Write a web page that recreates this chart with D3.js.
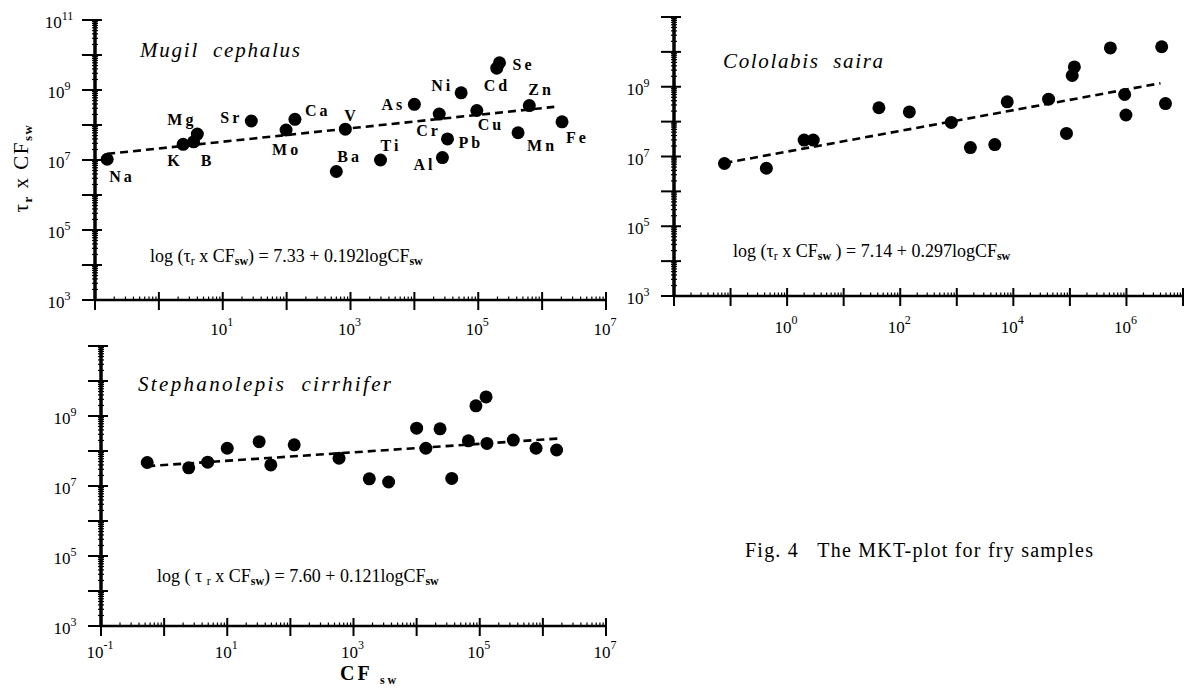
<!DOCTYPE html>
<html>
<head>
<meta charset="utf-8">
<script src="https://cdn.jsdelivr.net/npm/d3@7"></script>
<style>
  body { margin: 0; background: #ffffff; }
  text { font-family: "Liberation Serif", "DejaVu Serif", serif; fill: #000000; white-space: pre; }
</style>
</head>
<body>
<script>
var width = 1184;
var height = 689;

// Mugil cephalus
var mugilElements = ["Na", "K", "B", "Mg", "Sr", "Mo", "Ca", "V", "Ba", "Ti", "As",
  "Cr", "Ni", "Pb", "Al", "Cu", "Cd", "Se", "Mn", "Zn", "Fe"];
var mugilCF = [0.155, 2.4, 3.5, 4.0, 28, 98, 135, 830, 600, 2950, 1.0e4,
  2.45e4, 5.4e4, 3.3e4, 2.75e4, 9.5e4, 1.95e5, 2.15e5, 4.2e5, 6.3e5, 2.05e6];
var mugilTauCF = [1.05e7, 2.8e7, 3.3e7, 5.5e7, 1.3e8, 7.2e7, 1.45e8, 7.6e7, 4.7e6, 1.0e7, 3.9e8,
  2.05e8, 8.3e8, 4.0e7, 1.17e7, 2.6e8, 4.2e9, 6.0e9, 6.0e7, 3.6e8, 1.23e8];
var mugilFit = [7.33, 0.192];
var mugilFitRange = [0.155, 1.55e6];

// Cololabis saira
var sairaCF = [0.078, 0.43, 2.0, 2.9, 42, 145, 800, 1740, 4700, 7800, 4.2e4,
  8.7e4, 1.1e5, 1.2e5, 5.2e5, 9.3e5, 9.8e5, 4.2e6, 4.9e6];
var sairaTauCF = [6.3e6, 4.6e6, 2.95e7, 2.95e7, 2.5e8, 1.9e8, 9.5e7, 1.8e7, 2.2e7, 3.7e8, 4.4e8,
  4.6e7, 2.1e9, 3.7e9, 1.3e10, 6.0e8, 1.55e8, 1.4e10, 3.3e8];
var sairaFit = [7.14, 0.297];
var sairaFitRange = [0.078, 4.0e6];

// Stephanolepis cirrhifer
var cirrhiferCF = [0.54, 2.45, 4.9, 10, 32, 49, 115, 590, 1780, 3600, 1.0e4,
  1.4e4, 2.35e4, 3.6e4, 6.6e4, 8.7e4, 1.26e5, 1.3e5, 3.4e5, 7.8e5, 1.65e6];
var cirrhiferTauCF = [4.7e7, 3.3e7, 4.8e7, 1.2e8, 1.85e8, 4.0e7, 1.5e8, 6.2e7, 1.6e7, 1.3e7, 4.5e8,
  1.2e8, 4.3e8, 1.65e7, 1.95e8, 1.95e9, 3.5e9, 1.65e8, 2.05e8, 1.2e8, 1.07e8];
var cirrhiferFit = [7.60, 0.121];
var cirrhiferFitRange = [0.54, 1.8e6];

// tick labels (exponents of ten)
var yLabelsTop = ["3", "5", "7", "9", "11"];
var yLabels = ["3", "5", "7", "9"];
var xLabelsMugil = ["1", "3", "5", "7"];
var xLabelsSaira = ["0", "2", "4", "6"];
var xLabelsCirrhifer = ["-1", "1", "3", "5", "7"];

// label offsets from each Mugil point (layout only)
var mugilLabelOffset = [[2, 23], [-16, 22], [7, 24], [-30, -9], [-31, 2], [-14, 25], [10, -3],
  [-1, -8], [1, -9], [0, -9], [-33, 6], [-23, 22], [-30, -2], [11, 9], [-29, 12], [1, 20],
  [-13, 23], [13, 7], [9, 18], [-1, -11], [4, 21]];

var svg = d3.select("body")
  .append("svg")
  .attr("width", width)
  .attr("height", height);

svg.append("rect")
  .attr("width", width)
  .attr("height", height)
  .attr("fill", "#ffffff");

function drawPanel(p) {
  var g = svg.append("g");
  var x = d3.scaleLog().domain(p.xDomain).range(p.xRange);
  var y = d3.scaleLog().domain([1e3, 1e11]).range(p.yRange);
  var x0 = p.xRange[0];
  var y0 = p.yRange[0];

  var xMajor = x.ticks(20).filter(function (d) {
    return Math.abs(Math.log10(d) - Math.round(Math.log10(d))) < 1e-9;
  });
  var xMinor = x.ticks(20).filter(function (d) {
    return xMajor.indexOf(d) < 0;
  });
  var yMajor = y.ticks(20).filter(function (d) {
    return Math.abs(Math.log10(d) - Math.round(Math.log10(d))) < 1e-9;
  });
  var yMinor = y.ticks(20).filter(function (d) {
    return yMajor.indexOf(d) < 0;
  });

  // axes
  g.append("line")
    .attr("x1", x0).attr("y1", y0)
    .attr("x2", p.xRange[1]).attr("y2", y0)
    .attr("stroke", "#000").attr("stroke-width", 2.5);
  g.append("line")
    .attr("x1", x0).attr("y1", y0)
    .attr("x2", x0).attr("y2", p.yRange[1])
    .attr("stroke", "#000").attr("stroke-width", 3.5);

  g.selectAll("line.xmajor")
    .data(xMajor)
    .enter()
    .append("line")
    .classed("xmajor", true)
    .attr("x1", function (d) { return x(d); })
    .attr("x2", function (d) { return x(d); })
    .attr("y1", y0 - 8)
    .attr("y2", y0 + 10)
    .attr("stroke", "#000")
    .attr("stroke-width", 2);
  g.selectAll("line.xminor")
    .data(xMinor)
    .enter()
    .append("line")
    .classed("xminor", true)
    .attr("x1", function (d) { return x(d); })
    .attr("x2", function (d) { return x(d); })
    .attr("y1", y0 - 3.5)
    .attr("y2", y0)
    .attr("stroke", "#000")
    .attr("stroke-width", 1.2);
  g.selectAll("line.ymajor")
    .data(yMajor)
    .enter()
    .append("line")
    .classed("ymajor", true)
    .attr("y1", function (d) { return y(d); })
    .attr("y2", function (d) { return y(d); })
    .attr("x1", x0 - 13)
    .attr("x2", x0 + 7)
    .attr("stroke", "#000")
    .attr("stroke-width", 2);
  g.selectAll("line.yminor")
    .data(yMinor)
    .enter()
    .append("line")
    .classed("yminor", true)
    .attr("y1", function (d) { return y(d); })
    .attr("y2", function (d) { return y(d); })
    .attr("x1", x0 - 3)
    .attr("x2", x0 + 3)
    .attr("stroke", "#000")
    .attr("stroke-width", 1.2);

  // tick labels
  g.selectAll("text.ylab")
    .data(p.yLabels)
    .enter()
    .append("text")
    .classed("ylab", true)
    .attr("x", x0 - 36)
    .attr("y", function (d) { return y(Math.pow(10, +d)) + 8; })
    .attr("text-anchor", "middle")
    .attr("font-size", 17)
    .each(function (d) {
      var t = d3.select(this);
      t.append("tspan").text("10");
      t.append("tspan").attr("dy", -8).attr("font-size", 12).text(d);
    });
  g.selectAll("text.xlab")
    .data(p.xLabels)
    .enter()
    .append("text")
    .classed("xlab", true)
    .attr("x", function (d) { return x(Math.pow(10, +d)) - 1; })
    .attr("y", y0 + p.xLabelDy)
    .attr("text-anchor", "middle")
    .attr("font-size", 17)
    .each(function (d) {
      var t = d3.select(this);
      t.append("tspan").text("10");
      t.append("tspan").attr("dy", -9).attr("font-size", 12).text(d);
    });

  // fit line
  g.append("line")
    .attr("x1", x(p.fitRange[0]))
    .attr("y1", y(Math.pow(10, p.fit[0] + p.fit[1] * Math.log10(p.fitRange[0]))))
    .attr("x2", x(p.fitRange[1]))
    .attr("y2", y(Math.pow(10, p.fit[0] + p.fit[1] * Math.log10(p.fitRange[1]))))
    .attr("stroke", "#000")
    .attr("stroke-width", 2.6)
    .attr("stroke-dasharray", "8 5");

  // points
  g.selectAll("circle.pt")
    .data(p.cf)
    .enter()
    .append("circle")
    .classed("pt", true)
    .attr("cx", function (d) { return x(d); })
    .attr("cy", function (d, i) { return y(p.tau[i]); })
    .attr("r", 6.5)
    .attr("fill", "#000");

  if (p.names) {
    g.selectAll("text.el")
      .data(p.names)
      .enter()
      .append("text")
      .classed("el", true)
      .attr("x", function (d, i) { return x(p.cf[i]) + mugilLabelOffset[i][0]; })
      .attr("y", function (d, i) { return y(p.tau[i]) + mugilLabelOffset[i][1]; })
      .attr("font-size", 16)
      .attr("font-weight", "bold")
      .attr("letter-spacing", 3)
      .text(function (d) { return d; });
  }

  // species name
  g.append("text")
    .attr("x", p.title[1])
    .attr("y", p.title[2])
    .attr("font-size", 21)
    .attr("font-style", "italic")
    .attr("textLength", p.title[3])
    .attr("lengthAdjust", "spacing")
    .text(p.title[0]);

  // regression equation
  var eq = g.append("text")
    .attr("x", p.eq[0])
    .attr("y", p.eq[1])
    .attr("font-size", 18);
  eq.append("tspan").text(p.eq[2]);
  eq.append("tspan").attr("dy", 3).attr("font-size", 12).text("r");
  eq.append("tspan").attr("dy", -3).text(" x CF");
  eq.append("tspan").attr("dy", 3).attr("font-size", 12).attr("font-weight", "bold").text("sw");
  eq.append("tspan").attr("dy", -3).text(p.eq[3]);
  eq.append("tspan").attr("dy", 3).attr("font-size", 12).attr("font-weight", "bold").text("sw");
}

drawPanel({
  xDomain: [1e-1, 1e7], xRange: [95, 606], yRange: [300, 20],
  cf: mugilCF, tau: mugilTauCF, names: mugilElements,
  fit: mugilFit, fitRange: mugilFitRange,
  yLabels: yLabelsTop, xLabels: xLabelsMugil, xLabelDy: 35,
  title: ["Mugil  cephalus", 140, 57, 160],
  eq: [150, 262, "log (\u03c4", ") = 7.33 + 0.192logCF"]
});

drawPanel({
  xDomain: [1e-2, 1e7], xRange: [674, 1183], yRange: [296, 17],
  cf: sairaCF, tau: sairaTauCF, names: null,
  fit: sairaFit, fitRange: sairaFitRange,
  yLabels: yLabels, xLabels: xLabelsSaira, xLabelDy: 37,
  title: ["Cololabis  saira", 723, 68, 160],
  eq: [733, 257, "log (\u03c4", " ) = 7.14 + 0.297logCF"]
});

drawPanel({
  xDomain: [1e-1, 1e7], xRange: [101, 606], yRange: [626, 346],
  cf: cirrhiferCF, tau: cirrhiferTauCF, names: null,
  fit: cirrhiferFit, fitRange: cirrhiferFitRange,
  yLabels: yLabels, xLabels: xLabelsCirrhifer, xLabelDy: 32,
  title: ["Stephanolepis  cirrhifer", 138, 391, 253],
  eq: [157, 582, "log ( \u03c4 ", ") = 7.60 + 0.121logCF"]
});

// axis titles
var yTitle = svg.append("text")
  .attr("transform", "translate(28,168) rotate(-90)")
  .attr("text-anchor", "middle")
  .attr("font-size", 21)
  .attr("letter-spacing", 1.5);
yTitle.append("tspan").text("\u03c4");
yTitle.append("tspan").attr("dy", 4).attr("font-size", 13).attr("font-weight", "bold").text("r");
yTitle.append("tspan").attr("dy", -4).text(" x CF");
yTitle.append("tspan").attr("dy", 4).attr("font-size", 13).attr("font-weight", "bold").text("sw");

var xTitle = svg.append("text")
  .attr("x", 340)
  .attr("y", 680)
  .attr("font-size", 20)
  .attr("font-weight", "bold");
xTitle.append("tspan").attr("letter-spacing", 3).text("CF ");
xTitle.append("tspan").attr("dy", 4).attr("font-size", 12).attr("letter-spacing", 3).text("sw");

svg.append("text")
  .attr("x", 745)
  .attr("y", 557)
  .attr("font-size", 20)
  .attr("textLength", 348)
  .attr("lengthAdjust", "spacing")
  .text("Fig. 4   The MKT-plot for fry samples");
</script>
</body>
</html>
